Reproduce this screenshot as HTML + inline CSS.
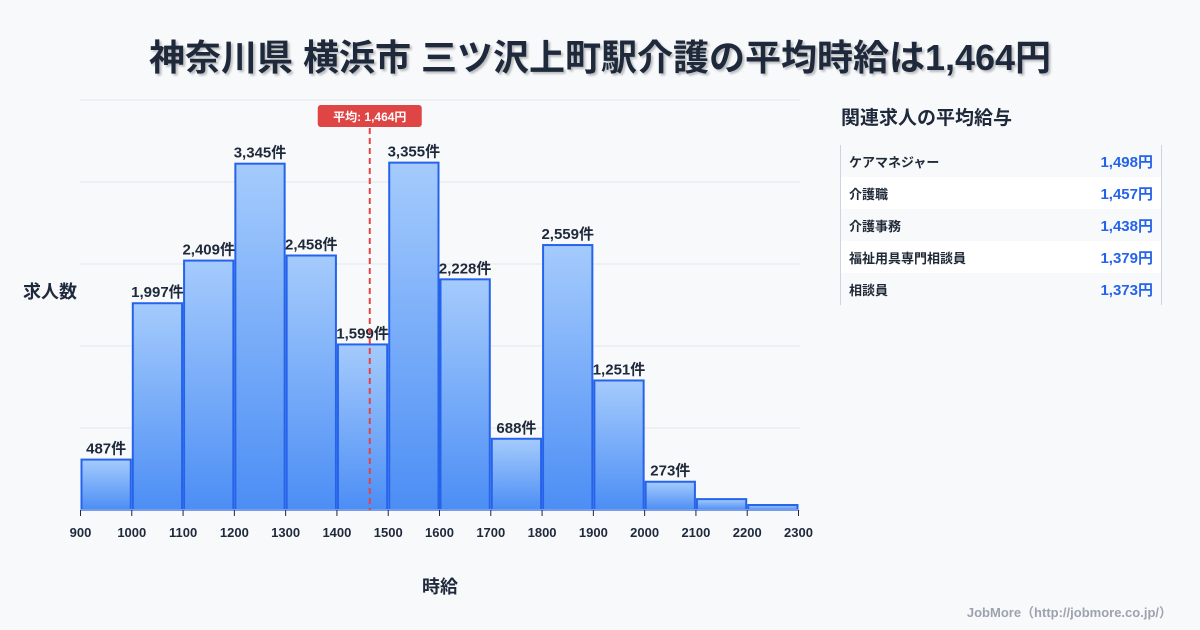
<!DOCTYPE html>
<html><head><meta charset="utf-8">
<style>
body{margin:0;width:1200px;height:630px;background:#f8f9fb;font-family:"Liberation Sans","Noto Sans CJK JP",sans-serif;overflow:hidden;position:relative;color:#1f2937}
#title{position:absolute;left:0;width:1200px;top:29px;text-align:center;font-size:36px;font-weight:bold;color:#1e293b;text-shadow:2px 2px 2px rgba(0,0,0,0.25)}
#panel-title{position:absolute;left:841px;top:103px;font-size:19px;font-weight:bold;color:#1e293b}
#panel{position:absolute;left:840px;top:145px;width:320px;height:160px;border-left:1px solid #cbd5e1;border-right:1px solid #cbd5e1}
.row{height:32px;display:flex;justify-content:space-between;align-items:center;padding:0 8px 0 8px;font-size:13px;font-weight:bold}
.row .v{color:#2563eb;font-size:15px}
.row.alt{background:#fff}
#footer{position:absolute;right:28px;top:602px;font-size:13px;color:#9ca3af;font-weight:bold}
</style></head><body>
<div id="title">神奈川県 横浜市 三ツ沢上町駅介護の平均時給は1,464円</div>
<svg id="chart" width="1200" height="630" style="position:absolute;left:0;top:0">
<defs><linearGradient id="g" x1="0" y1="0" x2="0" y2="1"><stop offset="0" stop-color="#a5cbfc"/><stop offset="1" stop-color="#4c8ef5"/></linearGradient></defs>
<g id="grid"></g><g id="bars"></g><g id="labels"></g><g id="xaxis"></g><g id="mean"></g>
<text x="50" y="298" text-anchor="middle" font-size="18" font-weight="bold" fill="#1e293b">求人数</text>
<text x="440" y="593" text-anchor="middle" font-size="18" font-weight="bold" fill="#1e293b">時給</text>
</svg>
<div id="panel-title">関連求人の平均給与</div>
<div id="panel">
<div class="row"><span>ケアマネジャー</span><span class="v">1,498円</span></div>
<div class="row alt"><span>介護職</span><span class="v">1,457円</span></div>
<div class="row"><span>介護事務</span><span class="v">1,438円</span></div>
<div class="row alt"><span>福祉用具専門相談員</span><span class="v">1,379円</span></div>
<div class="row"><span>相談員</span><span class="v">1,373円</span></div>
</div>
<div id="footer">JobMore（http://jobmore.co.jp/）</div>
<script>
const binStarts=[900,1000,1100,1200,1300,1400,1500,1600,1700,1800,1900,2000,2100,2200];
const counts=[487,1997,2409,3345,2458,1599,3355,2228,688,2559,1251,273,105,48];
const showLabel=[true,true,true,true,true,true,true,true,true,true,true,true,false,false];
const xTicks=[900,1000,1100,1200,1300,1400,1500,1600,1700,1800,1900,2000,2100,2200,2300];
const meanValue=1464;
const ns="http://www.w3.org/2000/svg";
const X0=80.5,X1=798.5,XMIN=900,XMAX=2300,Y0=510,Y1=100,YMAX=3960;
const x=v=>X0+(v-XMIN)/(XMAX-XMIN)*(X1-X0);
const y=v=>Y0-v/YMAX*(Y0-Y1);
function mk(tag,attrs,parent){const e=document.createElementNS(ns,tag);for(const k in attrs)e.setAttribute(k,attrs[k]);document.getElementById(parent).appendChild(e);return e;}
for(let i=0;i<=5;i++){const yy=Y1+i*(Y0-Y1)/5;
const l=mk('line',{x1:80,x2:800,y1:yy,y2:yy,stroke:'#e5e7eb','stroke-width':1},'grid');

}
const step=(x(1000)-x(900));
binStarts.forEach((b,i)=>{
const x0=x(b)+1,w=step-2,top=y(counts[i]);
const r=mk('rect',{x:x0,y:top,width:w,height:Y0-top,fill:'url(#g)',stroke:'#2563eb','stroke-width':2},'bars');


if(showLabel[i]){const t=mk('text',{x:x0+w/2,y:top-6,'text-anchor':'middle','font-size':15,'font-weight':'bold',fill:'#1e293b'},'labels');
t.textContent=counts[i].toLocaleString('en-US')+'件';

}
});
mk('line',{x1:80,x2:800,y1:Y0,y2:Y0,stroke:'#cbd5e1','stroke-width':1},'xaxis');
xTicks.forEach(v=>{
mk('line',{x1:x(v),x2:x(v),y1:Y0,y2:Y0+6,stroke:'#1e293b','stroke-width':1},'xaxis');
const t=mk('text',{x:x(v),y:537,'text-anchor':'middle','font-size':13,'font-weight':'bold',fill:'#1e293b'},'xaxis');
t.textContent=v;


});
const mx=x(meanValue);
const ml=mk('line',{x1:mx,x2:mx,y1:128,y2:Y0,stroke:'#e04545','stroke-width':2,'stroke-dasharray':'6,4'},'mean');


const br=mk('rect',{x:mx-52,y:105,width:104,height:22,rx:3,fill:'#e04545'},'mean');


const bt=mk('text',{x:mx,y:121,'text-anchor':'middle','font-size':12,'font-weight':'bold',fill:'#fff'},'mean');
bt.textContent='平均: '+meanValue.toLocaleString('en-US')+'円';


</script>
</body></html>
